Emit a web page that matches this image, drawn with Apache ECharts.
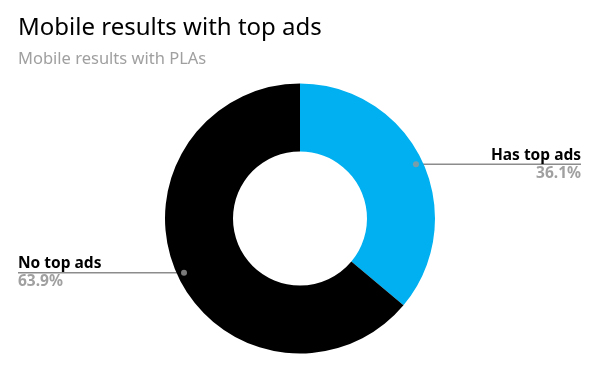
<!DOCTYPE html>
<html>
<head>
<meta charset="utf-8">
<script src="https://cdn.jsdelivr.net/npm/echarts@6/dist/echarts.min.js"></script>
<style>
html,body{margin:0;padding:0;background:#fff;}
#chart{width:600px;height:372px;}
</style>
</head>
<body>
<div id="chart"></div>
<script>
var titleText = "Mobile results with top ads";
var subtitleText = "Mobile results with PLAs";
var categories = ["Has top ads", "No top ads"];
var values = [36.1, 63.9];
var colors = ["#00B0F0", "#000000"];

var CX = 300, CY = 218.5, R_OUT = 135, R_IN = 67, R_DOT = 128;
var LEFT_EDGE = 18, RIGHT_EDGE = 581;

var total = values.reduce(function(a, b){ return a + b; }, 0);
var cum = 0;
var dotData = values.map(function(v){
  var mid = cum + v / 2;
  cum += v;
  return [1, mid / total * 100];
});

var chart = echarts.init(document.getElementById('chart'));
chart.setOption({
  backgroundColor: '#ffffff',
  animation: false,
  title: {
    text: titleText,
    subtext: subtitleText,
    left: 13,
    top: 11,
    itemGap: 11,
    textStyle: { fontFamily: 'Noto Sans', fontSize: 24, fontWeight: 'normal', color: '#000000' },
    subtextStyle: { fontFamily: 'Noto Sans', fontSize: 16.5, color: '#a0a0a0' }
  },
  polar: { center: [CX, CY], radius: R_DOT },
  angleAxis: { type: 'value', min: 0, max: 100, startAngle: 90, clockwise: true, show: false },
  radiusAxis: { type: 'value', min: 0, max: 1, show: false },
  series: [
    {
      type: 'pie',
      center: [CX, CY],
      radius: [R_IN, R_OUT],
      startAngle: 90,
      clockwise: true,
      silent: true,
      data: categories.map(function(c, i){
        return { name: c, value: values[i], itemStyle: { color: colors[i] } };
      }),
      label: {
        show: true,
        formatter: function(p){ return '{a|' + p.name + '}\n{b|' + p.value.toFixed(1) + '%}'; },
        rich: {
          a: { fontFamily: 'Noto Sans', fontWeight: 'bold', fontSize: 15.5, color: '#000000', lineHeight: 18 },
          b: { fontFamily: 'Noto Sans', fontWeight: 'bold', fontSize: 15.5, color: '#a0a0a0', lineHeight: 18 }
        }
      },
      labelLine: { show: true, length: 10, length2: 10, lineStyle: { color: '#8c8c8c', width: 1.5 } },
      labelLayout: function(params){
        var pts = params.labelLinePoints;
        var p0 = pts[0];
        var dx = p0[0] - CX, dy = p0[1] - CY;
        var len = Math.sqrt(dx*dx + dy*dy);
        var sx = CX + dx / len * R_DOT, sy = CY + dy / len * R_DOT;
        var right = dx > 0;
        var ex = right ? RIGHT_EDGE : LEFT_EDGE;
        return {
          x: ex,
          y: sy,
          align: right ? 'right' : 'left',
          verticalAlign: 'middle',
          labelLinePoints: [[sx, sy], [ex, sy], [ex, sy]]
        };
      }
    },
    {
      type: 'scatter',
      coordinateSystem: 'polar',
      symbol: 'circle',
      symbolSize: 6,
      silent: true,
      z: 10,
      itemStyle: { color: '#999999' },
      data: dotData
    }
  ]
});
</script>
</body>
</html>
